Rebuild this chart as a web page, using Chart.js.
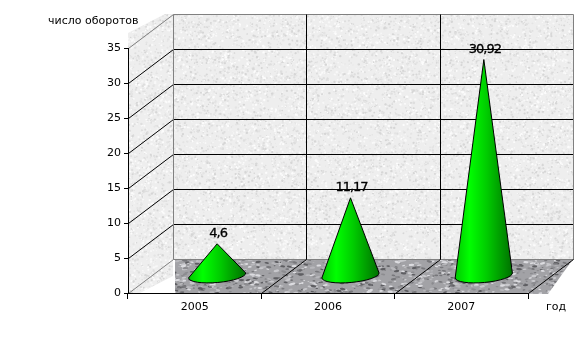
<!DOCTYPE html>
<html>
<head>
<meta charset="utf-8">
<title>Число оборотов</title>
<style>
  body { margin: 0; background: #fff; }
  canvas { display: block; }
</style>
<script src="https://cdn.jsdelivr.net/npm/chart.js@4"></script>
</head>
<body>
<canvas id="chart" width="579" height="359"></canvas>
<script>
const categories = ['2005', '2006', '2007'];
const turnover = [4.6, 11.17, 30.92];
const valueLabels = ['4,6', '11,17', '30,92'];
const yAxisTitle = 'число оборотов';
const xAxisTitle = 'год';

// 3D look: how far the back wall sits from the front axes
const depthX = 45;
const depthY = 34;
const FONT = '"DejaVu Sans", sans-serif';

// small seeded generator, used only for the stone texture of the walls
function makeRandom(seed) {
  return function () {
    seed = (seed + 0x6D2B79F5) | 0;
    let t = Math.imul(seed ^ (seed >>> 15), 1 | seed);
    t = (t + Math.imul(t ^ (t >>> 7), 61 | t)) ^ t;
    return ((t ^ (t >>> 14)) >>> 0) / 4294967296;
  };
}

function makeTexture(w, h, base, shades, count, size, stretch, blur, seed) {
  const rnd = makeRandom(seed);
  const raw = document.createElement('canvas');
  raw.width = w;
  raw.height = h;
  const c = raw.getContext('2d');
  c.fillStyle = base;
  c.fillRect(0, 0, w, h);
  for (let i = 0; i < count; i++) {
    const r = size * (0.5 + rnd());
    c.fillStyle = shades[Math.floor(rnd() * shades.length)];
    c.beginPath();
    c.ellipse(rnd() * w, rnd() * h, r * stretch, r, rnd() * 0.5 - 0.25, 0, Math.PI * 2);
    c.fill();
  }
  const out = document.createElement('canvas');
  out.width = w;
  out.height = h;
  const o = out.getContext('2d');
  o.filter = 'blur(' + blur + 'px)';
  o.drawImage(raw, 0, 0);
  return out;
}

function fillPolygon(ctx, points, texture) {
  ctx.save();
  ctx.beginPath();
  points.forEach((p, i) => (i ? ctx.lineTo(p[0], p[1]) : ctx.moveTo(p[0], p[1])));
  ctx.closePath();
  ctx.clip();
  ctx.drawImage(texture, 0, 0);
  ctx.restore();
}

function line(ctx, x1, y1, x2, y2, color) {
  ctx.strokeStyle = color;
  ctx.lineWidth = 1;
  ctx.beginPath();
  ctx.moveTo(x1, y1);
  ctx.lineTo(x2, y2);
  ctx.stroke();
}

// Walls, floor and the gridlines, all placed from the chart scales
const roomPlugin = {
  id: 'room',
  beforeDraw(chart) {
    const ctx = chart.ctx;
    const x = chart.scales.x;
    const y = chart.scales.y;
    const left = chart.chartArea.left;
    const right = chart.chartArea.right;
    const bottom = chart.chartArea.bottom;
    const top = chart.chartArea.top;
    const backLeft = left + depthX;
    const backRight = right + depthX;

    const wallTex = makeTexture(579, 359, '#eeeeee', ['#dedede', '#d6d6d6', '#f8f8f8', '#e4e4e4', '#fcfcfc'], 26000, 0.8, 1.1, 0.7, 11);
    const floorTex = makeTexture(579, 359, '#a2a2a6', ['#77777b', '#5e5e62', '#c8c8cc', '#8c8c90', '#b8b8bc', '#dcdce0'], 16000, 0.8, 2.4, 0.7, 23);

    fillPolygon(ctx, [[backLeft + 0.5, top - depthY], [backRight + 0.5, top - depthY], [backRight + 0.5, bottom - depthY], [backLeft + 0.5, bottom - depthY]], wallTex);
    fillPolygon(ctx, [[left, top - 15], [backLeft - 8, top - depthY], [backLeft, top - depthY], [backLeft, bottom - 17], [left + 12, bottom], [left, bottom]], wallTex);
    fillPolygon(ctx, [[backLeft + 2, bottom - depthY], [backRight, bottom - depthY], [right + 20, bottom + 1], [backLeft + 2, bottom + 1]], floorTex);

    ctx.save();
    ctx.translate(0.5, 0.5);
    y.ticks.forEach(t => {
      const py = Math.round(y.getPixelForValue(t.value));
      const outer = t.value === 0 || t.value === y.max;
      const color = outer ? '#808080' : '#000';
      line(ctx, left, py, backLeft, py - depthY, color);
      line(ctx, backLeft, py - depthY, backRight, py - depthY, color);
    });
    line(ctx, backLeft, top - depthY, backLeft, bottom - depthY, '#808080');
    line(ctx, backRight, top - depthY, backRight, bottom - depthY, '#808080');

    // category borders run across the floor and up the back wall
    for (let i = 1; i <= categories.length; i++) {
      const edge = Math.round(x.getPixelForValue(i - 0.5));
      line(ctx, edge, bottom, edge + depthX, bottom - depthY, '#000');
      if (i < categories.length) {
        line(ctx, edge + depthX, bottom - depthY, edge + depthX, top - depthY, '#000');
      }
    }
    ctx.restore();
  }
};

// The bars stay invisible: each cone is drawn over its bar element
const conePlugin = {
  id: 'cones',
  afterDatasetsDraw(chart) {
    const ctx = chart.ctx;
    const bars = chart.getDatasetMeta(0).data;
    const halfSlot = (chart.scales.x.getPixelForValue(1) - chart.scales.x.getPixelForValue(0)) / 2;
    const radius = halfSlot * 0.43;
    bars.forEach((bar, i) => {
      const cx = bar.x + depthX / 2;
      const apexY = bar.y - depthY / 2;
      const cy = bar.base - depthY / 2;
      const grad = ctx.createLinearGradient(cx - radius, 0, cx + radius, 0);
      grad.addColorStop(0, '#00c800');
      grad.addColorStop(0.25, '#00ff00');
      grad.addColorStop(0.55, '#00cc00');
      grad.addColorStop(1, '#007000');
      ctx.beginPath();
      ctx.moveTo(cx, apexY);
      ctx.lineTo(cx - radius, cy + 2.5);
      ctx.ellipse(cx, cy, radius, 7, -0.09, Math.PI, 0, true);
      ctx.closePath();
      ctx.fillStyle = grad;
      ctx.fill();
      ctx.strokeStyle = '#000';
      ctx.lineWidth = 1;
      ctx.stroke();

      ctx.fillStyle = '#000';
      ctx.strokeStyle = '#000';
      ctx.lineWidth = 0.3;
      ctx.font = '13px ' + FONT;
      ctx.textAlign = 'center';
      ctx.textBaseline = 'middle';
      ctx.letterSpacing = '-1px';
      ctx.fillText(valueLabels[i], cx + 1, apexY - 10);
      ctx.strokeText(valueLabels[i], cx + 1, apexY - 10);
      ctx.letterSpacing = '0px';
    });
  }
};

const axisTitlePlugin = {
  id: 'axisTitles',
  afterDraw(chart) {
    const ctx = chart.ctx;
    ctx.fillStyle = '#000';
    ctx.font = '11px ' + FONT;
    ctx.textBaseline = 'middle';
    ctx.textAlign = 'left';
    ctx.fillText(yAxisTitle, 48, 21);
    ctx.fillText(xAxisTitle, 546, 307);
  }
};

new Chart(document.getElementById('chart'), {
  type: 'bar',
  data: {
    labels: categories,
    datasets: [{ data: turnover, backgroundColor: 'transparent', borderWidth: 0 }]
  },
  plugins: [roomPlugin, conePlugin, axisTitlePlugin],
  options: {
    responsive: false,
    animation: false,
    layout: { padding: { left: 88, top: 48, right: 51, bottom: 46 } },
    plugins: { legend: { display: false }, tooltip: { enabled: false } },
    scales: {
      x: {
        afterFit(scale) { scale.height = 20; },
        grid: { drawOnChartArea: false, color: '#000', tickLength: 6, offset: true },
        border: { color: '#000' },
        ticks: { color: '#000', font: { family: FONT, size: 11 }, padding: 2, maxRotation: 0 }
      },
      y: {
        min: 0,
        max: 35,
        afterFit(scale) { scale.width = 40; },
        grid: { drawOnChartArea: false, color: '#000', tickLength: 4 },
        border: { color: '#000' },
        ticks: { stepSize: 5, color: '#000', font: { family: FONT, size: 11 }, padding: 3 }
      }
    }
  }
});
</script>
</body>
</html>
